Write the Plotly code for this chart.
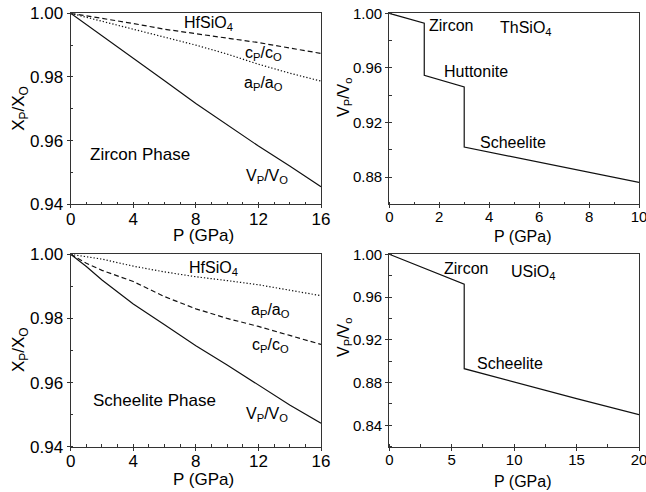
import plotly.graph_objects as go

# ---------------- data ----------------
# HfSiO4 zircon phase (top-left)
p_zr = [0, 2, 4, 6, 8, 10, 12, 14, 16]
zr_V = [1.0, 0.993, 0.9859, 0.9788, 0.9717, 0.9650, 0.9583, 0.9520, 0.9455]
zr_c = [1.0, 0.9985, 0.9968, 0.9950, 0.9935, 0.9922, 0.9908, 0.9891, 0.9874]
zr_a = [1.0, 0.9975, 0.9950, 0.9925, 0.9900, 0.9872, 0.9840, 0.9812, 0.9787]

# HfSiO4 scheelite phase (bottom-left)
p_sc = [0, 1, 2, 3, 4, 6, 8, 10, 12, 14, 16]
sc_V = [1.0, 0.9962, 0.9920, 0.9882, 0.9845, 0.9780, 0.9715, 0.9655, 0.9592, 0.9530, 0.9473]
sc_c = [1.0, 0.9972, 0.9950, 0.9932, 0.9915, 0.9868, 0.9830, 0.9800, 0.9775, 0.9747, 0.9719]
sc_a = [1.0, 0.9993, 0.9985, 0.9974, 0.9963, 0.9945, 0.9930, 0.9918, 0.9905, 0.9888, 0.9871]

# ThSiO4 (top-right)
p_th = [0, 1.4, 1.4, 3.0, 3.0, 6, 8, 10]
v_th = [1.0, 0.9927, 0.9546, 0.946, 0.902, 0.891, 0.8835, 0.876]

# USiO4 (bottom-right)
p_u = [0, 3, 6, 6, 10, 15, 20]
v_u = [1.0, 0.986, 0.972, 0.893, 0.8805, 0.865, 0.850]

FONT = "Liberation Sans, Arial, sans-serif"
LC = "#111111"
AX = "#333333"

fig = go.Figure()

def line(x, y, xa, ya, dash="solid"):
    fig.add_trace(go.Scatter(x=x, y=y, mode="lines", xaxis=xa, yaxis=ya,
                             line=dict(color=LC, width=1.2, dash=dash),
                             showlegend=False, hoverinfo="skip"))

line(p_zr, zr_V, "x", "y")
line(p_zr, zr_c, "x", "y", "5px,3px")
line(p_zr, zr_a, "x", "y", "1.3px,2px")
line(p_th, v_th, "x2", "y2")
line(p_sc, sc_V, "x3", "y3")
line(p_sc, sc_c, "x3", "y3", "5px,3px")
line(p_sc, sc_a, "x3", "y3", "1.3px,2px")
line(p_u, v_u, "x4", "y4")

W, H = 646, 492
LX = [70.7 / W, 321 / W]
RX = [389.3 / W, 639 / W]
TY = [1 - 204.3 / H, 1 - 13.3 / H]
BY = [1 - 446.7 / H, 1 - 254.3 / H]

def xax(dom, anchor, rng, dtick, minor, fs):
    return dict(domain=dom, anchor=anchor, range=rng, dtick=dtick, tick0=0,
                showline=True, mirror=True, linecolor=AX, linewidth=1.2,
                ticks="outside", ticklen=3, tickcolor=AX, tickwidth=1,
                minor=dict(dtick=minor, ticks="inside", ticklen=2.5, tickcolor=AX),
                showgrid=False, zeroline=False, automargin=False,
                ticklabelstandoff=-4, ticklabeloverflow="allow",
                tickfont=dict(family=FONT, size=fs, color="black"))

def yax(dom, anchor, rng, dtick, minor, fs, fmt=".2f"):
    return dict(domain=dom, anchor=anchor, range=rng, dtick=dtick, tick0=1.0,
                showline=True, mirror=True, linecolor=AX, linewidth=1.2,
                ticks="outside", ticklen=3, tickcolor=AX, tickwidth=1,
                minor=dict(dtick=minor, ticks="inside", ticklen=2.5, tickcolor=AX),
                showgrid=False, zeroline=False, tickformat=fmt, automargin=False,
                ticklabeloverflow="allow",
                tickfont=dict(family=FONT, size=fs, color="black"))

fig.update_layout(
    width=W, height=H, margin=dict(l=0, r=0, t=0, b=0, autoexpand=False),
    paper_bgcolor="white", plot_bgcolor="white",
    xaxis=xax(LX, "y", [0, 16], 4, 1, 17),
    yaxis=yax(TY, "x", [0.94, 1.0], 0.02, 0.01, 17),
    xaxis2=xax(RX, "y2", [0, 10], 2, 1, 15),
    yaxis2=yax(TY, "x2", [0.86, 1.0], 0.04, 0.02, 15),
    xaxis3=xax(LX, "y3", [0, 16], 4, 1, 17),
    yaxis3=yax(BY, "x3", [0.94, 1.0], 0.02, 0.01, 17),
    xaxis4=xax(RX, "y4", [0, 20], 5, 2.5, 15),
    yaxis4=yax(BY, "x4", [0.82, 1.0], 0.04, 0.02, 15),
)

anns = []
def txt(t, x, y, xr, yr, size=16, angle=0):
    anns.append(dict(text=t, x=x, y=y, xref=xr, yref=yr, showarrow=False,
                     xanchor="center", yanchor="middle", textangle=angle,
                     font=dict(family=FONT, size=size, color="black")))

# top-left
txt("HfSiO<sub>4</sub>", 8.78, 0.9968, "x", "y", 16)
txt("c<sub>P</sub>/c<sub>O</sub>", 12.3, 0.9875, "x", "y", 16)
txt("a<sub>P</sub>/a<sub>O</sub>", 12.3, 0.9781, "x", "y", 16)
txt("Zircon Phase", 4.43, 0.9555, "x", "y", 17)
txt("V<sub>P</sub>/V<sub>O</sub>", 12.55, 0.9486, "x", "y", 16)
# top-right
txt("Zircon", 2.47, 0.9914, "x2", "y2", 16)
txt("ThSiO<sub>4</sub>", 5.47, 0.9892, "x2", "y2", 16)
txt("Huttonite", 3.47, 0.9571, "x2", "y2", 16)
txt("Scheelite", 4.95, 0.9051, "x2", "y2", 16)
# bottom-left
txt("HfSiO<sub>4</sub>", 9.1, 0.9955, "x3", "y3", 16)
txt("a<sub>P</sub>/a<sub>O</sub>", 12.8, 0.9826, "x3", "y3", 16)
txt("c<sub>P</sub>/c<sub>O</sub>", 12.75, 0.9717, "x3", "y3", 16)
txt("Scheelite Phase", 5.33, 0.9545, "x3", "y3", 17)
txt("V<sub>P</sub>/V<sub>O</sub>", 12.55, 0.9501, "x3", "y3", 16)
# bottom-right
txt("Zircon", 6.14, 0.9871, "x4", "y4", 16)
txt("USiO<sub>4</sub>", 11.5, 0.9833, "x4", "y4", 16)
txt("Scheelite", 9.66, 0.8974, "x4", "y4", 16)

# axis titles
txt("P (GPa)", 203 / W, 1 - 235.5 / H, "paper", "paper", 17)
txt("P (GPa)", 523 / W, 1 - 236 / H, "paper", "paper", 16)
txt("P (GPa)", 203 / W, 1 - 479.5 / H, "paper", "paper", 17)
txt("P (GPa)", 523 / W, 1 - 481 / H, "paper", "paper", 16)
txt("X<sub>P</sub>/X<sub>O</sub>", 20 / W, 1 - 108.8 / H, "paper", "paper", 17, -90)
txt("X<sub>P</sub>/X<sub>O</sub>", 20 / W, 1 - 350 / H, "paper", "paper", 17, -90)
txt("V<sub>P</sub>/V<sub>o</sub>", 344 / W, 1 - 97 / H, "paper", "paper", 16, -90)
txt("V<sub>P</sub>/V<sub>o</sub>", 344 / W, 1 - 337 / H, "paper", "paper", 16, -90)

fig.update_layout(annotations=anns)
fig.write_html("out.html", config={"displayModeBar": False},
               post_script="document.body.style.margin='0px';document.body.style.overflow='hidden';")
